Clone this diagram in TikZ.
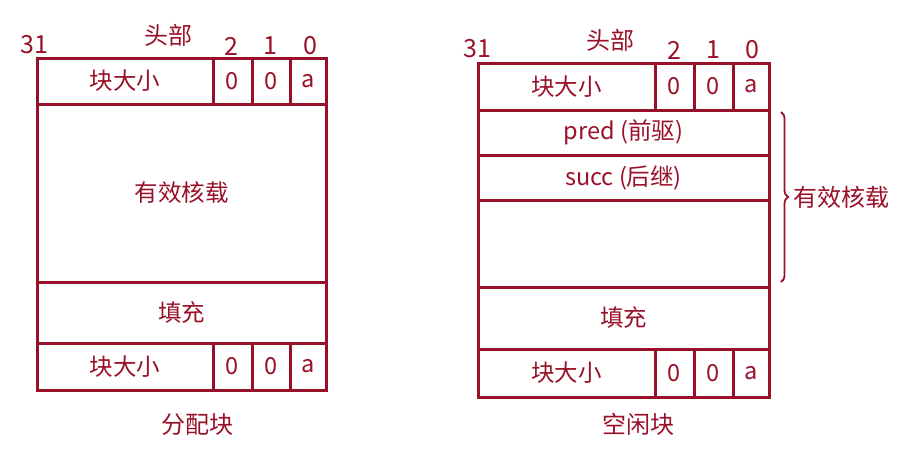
\documentclass[tikz,border=0pt]{standalone}
\usepackage{fontspec}
\setmainfont{Noto Sans CJK SC}
\usetikzlibrary{decorations.pathreplacing}
\definecolor{dred}{RGB}{153,17,40}
\begin{document}
\begin{tikzpicture}[x=1pt,y=-1pt,
  cell/.style={draw=dred,line width=3pt,inner sep=0pt,text=dred,font=\fontsize{23.5}{26}\selectfont},
  lbl/.style={text=dred,inner sep=0pt,font=\fontsize{24}{28}\selectfont},
  bit/.style={text=dred,inner sep=0pt,font=\fontsize{25}{28}\selectfont}]
\useasboundingbox (0,0) rectangle (918,467);
% ---------- left block ----------
\node[cell,minimum width=176pt,minimum height=46pt] (lsz) at (125,81) {块大小};
\node[cell,minimum width=39pt,minimum height=46pt] (lb2) at (232.5,81) {0};
\node[cell,minimum width=38pt,minimum height=46pt] (lb1) at (271,81) {0};
\node[cell,minimum width=36pt,minimum height=46pt] (lb0) at (308,81) {a};
\node[cell,minimum width=289pt,minimum height=178pt] (lpay) at (181.5,193) {\raisebox{3pt}{有效核载}};
\node[cell,minimum width=289pt,minimum height=61pt] (lfill) at (181.5,312.5) {填充};
\node[cell,minimum width=176pt,minimum height=47pt] (lfsz) at (125,366.5) {块大小};
\node[cell,minimum width=39pt,minimum height=47pt] (lf2) at (232.5,366.5) {0};
\node[cell,minimum width=38pt,minimum height=47pt] (lf1) at (271,366.5) {0};
\node[cell,minimum width=36pt,minimum height=47pt] (lf0) at (308,366.5) {a};
\node[bit] (l31) at (34,45) {31};
\node[lbl] (lhead) at (168,35) {头部};
\node[bit] (lt2) at (231,46) {2};
\node[bit] (lt1) at (270,46) {1};
\node[bit] (lt0) at (310,46) {0};
\node[lbl] (lcap) at (197,425) {分配块};
% ---------- right block ----------
\node[cell,minimum width=177pt,minimum height=47pt] (rsz) at (566.5,86.5) {块大小};
\node[cell,minimum width=39pt,minimum height=47pt] (rb2) at (674.5,86.5) {0};
\node[cell,minimum width=39pt,minimum height=47pt] (rb1) at (713.5,86.5) {0};
\node[cell,minimum width=36pt,minimum height=47pt] (rb0) at (751,86.5) {a};
\node[cell,minimum width=291pt,minimum height=45pt] (rpred) at (623.5,132.5) {pred (前驱)};
\node[cell,minimum width=291pt,minimum height=45pt] (rsucc) at (623.5,177.5) {succ (后继)};
\node[cell,minimum width=291pt,minimum height=87pt] (rempty) at (623.5,243.5) {};
\node[cell,minimum width=291pt,minimum height=62pt] (rfill) at (623.5,318) {填充};
\node[cell,minimum width=177pt,minimum height=48pt] (rfsz) at (566.5,373) {块大小};
\node[cell,minimum width=39pt,minimum height=48pt] (rf2) at (674.5,373) {0};
\node[cell,minimum width=39pt,minimum height=48pt] (rf1) at (713.5,373) {0};
\node[cell,minimum width=36pt,minimum height=48pt] (rf0) at (751,373) {a};
\node[bit] (r31) at (477,49) {31};
\node[lbl] (rhead) at (610,40) {头部};
\node[bit] (rt2) at (674,50) {2};
\node[bit] (rt1) at (713,50) {1};
\node[bit] (rt0) at (752,50) {0};
\node[lbl] (rcap) at (638,424) {空闲块};
% brace
\coordinate (bt) at (781,112);
\coordinate (bb) at (781,282);
\draw[dred,line width=1.8pt,decorate,decoration={brace,amplitude=7pt}] (bt) -- (bb);
\node[lbl] (rpay) at (841,197) {有效核载};
\end{tikzpicture}
\end{document}
